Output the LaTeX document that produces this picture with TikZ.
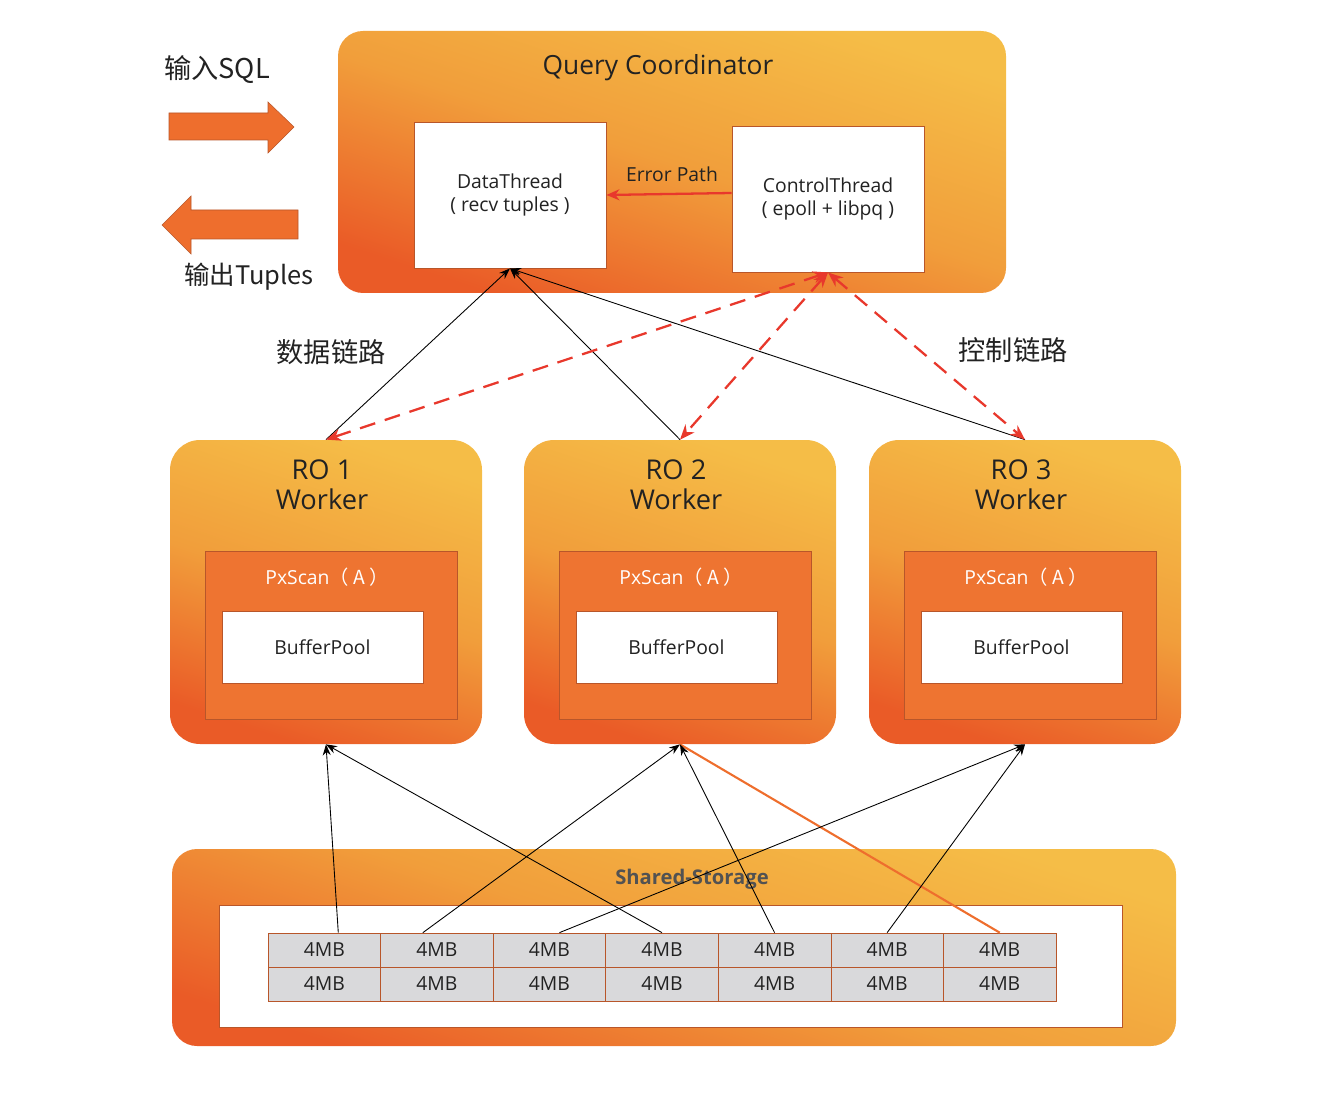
\documentclass[tikz,border=0pt]{standalone}
\usepackage{fontspec}
\setmainfont{Open Sans}
\newfontfamily\cjk{Noto Sans CJK SC}
\usetikzlibrary{arrows.meta}

\definecolor{qred}{HTML}{EA5B27}
\definecolor{qmid}{HTML}{F19E3B}
\definecolor{qyellow}{HTML}{F5BD47}
\definecolor{qscan}{HTML}{EE7431}
\definecolor{qbrown}{HTML}{B8562A}
\definecolor{qgray}{HTML}{D9D9DB}
\definecolor{qerr}{HTML}{E8382C}
\definecolor{qarrow}{HTML}{EE6E2D}
\definecolor{qtext}{HTML}{222222}

\begin{document}
\begin{tikzpicture}

  \useasboundingbox (0,0) rectangle (26.8,-21.92);
  \node[anchor=center,inner sep=0mm] (X) at (0,0) {};

  % node styles
  \tikzstyle{Panel}=[
  shape=rectangle,rounded corners=5mm,
  top color=qyellow,bottom color=qred,middle color=qmid,
  shading angle=-18]

  \tikzstyle{Box}=[
  shape=rectangle,draw=qbrown,fill=white,line width=0.5pt,
  align=center,text=qtext,
  font=\fontsize{11}{13.5}\selectfont]

  \tikzstyle{Title}=[align=center,text=qtext,font=\fontsize{15.5}{17}\selectfont]
  \tikzstyle{Label}=[text=qtext,font=\fontsize{11}{13.5}\selectfont]
  \tikzstyle{Cn}=[text=qtext,font=\cjk\fontsize{15.5}{19}\selectfont]
  \tikzstyle{Cell}=[shape=rectangle,draw=qbrown,fill=qgray,inner sep=0mm,
  minimum width=2.2514cm,minimum height=0.68cm,text=qtext,
  font=\fontsize{11}{13.5}\selectfont]

  % connector styles
  \tikzstyle{Data}=[draw=black,line width=0.5pt,-{Stealth[length=2.2mm,width=1.6mm]}]
  \tikzstyle{Ctrl}=[draw=qerr,line width=1.3pt,dash pattern=on 3.2mm off 2mm,
  {Stealth[length=3mm,width=2.4mm]}-{Stealth[length=3mm,width=2.4mm]}]
  \tikzstyle{Err}=[draw=qerr,line width=1.3pt,-{Stealth[length=2.6mm,width=2.2mm]}]

  % coordinator
  \draw (X) node[Panel,minimum width=13.36cm,minimum height=5.24cm] (QC) at +(13.44,-3.24) {};
  \draw (X) node[Title,font=\fontsize{15}{17}\selectfont] (QCT) at +(13.16,-1.36) {Query Coordinator};
  \draw (X) node[Box,minimum width=3.84cm,minimum height=2.92cm] (DT) at +(10.2,-3.9)
    {DataThread\\( recv tuples )};
  \draw (X) node[Box,minimum width=3.84cm,minimum height=2.92cm] (CT) at +(16.56,-3.98)
    {ControlThread\\( epoll + libpq )};
  \draw (X) node[Label] (EP) at +(13.44,-3.48) {Error Path};
  \draw[Err] ([yshift=1.2mm]CT.west) -- (DT.east);

  % input / output
  \fill[qarrow,draw=qbrown,line width=0.3pt] (3.38,-2.26) -- (5.36,-2.26) -- (5.36,-2.04)
    -- (5.88,-2.54) -- (5.36,-3.06) -- (5.36,-2.8) -- (3.38,-2.8) -- cycle;
  \fill[qarrow,draw=qbrown,line width=0.3pt] (5.96,-4.2) -- (3.82,-4.2) -- (3.82,-3.92)
    -- (3.24,-4.5) -- (3.82,-5.08) -- (3.82,-4.78) -- (5.96,-4.78) -- cycle;
  \draw (X) node[Cn] (IN) at +(4.34,-1.4) {输入SQL};
  \draw (X) node[Cn,font=\cjk\fontsize{14.5}{19}\selectfont] (OUT) at +(4.98,-5.54) {输出Tuples};
  \draw (X) node[Cn] (DL) at +(6.62,-7.04) {数据链路};
  \draw (X) node[Cn] (CL) at +(20.26,-7.0) {控制链路};

  % workers
  \foreach \i/\x in {1/6.52,2/13.6,3/20.5} {
    \draw (X) node[Panel,rounded corners=6mm,minimum width=6.24cm,minimum height=6.08cm] (W\i) at +(\x,-11.84) {};
    \node[Title] (WT\i) at ([xshift=-0.8mm,yshift=-9mm]W\i.north) {RO \i\\Worker};
    \node[shape=rectangle,draw=qbrown,fill=qscan,line width=0.5pt,
      minimum width=5.04cm,minimum height=3.36cm] (S\i) at ([xshift=1mm,yshift=-8.6mm]W\i.center) {};
    \node[text=white,font=\fontsize{11}{13.5}\selectfont] (SL\i) at ([xshift=-0.8mm,yshift=-5.4mm]S\i.north)
      {PxScan{\cjk （ A ）}};
    \node[Box,minimum width=4.02cm,minimum height=1.44cm] (BP\i) at ([xshift=-0.7mm,yshift=-11mm]W\i.center) {BufferPool};
  }

  % shared storage
  \draw (X) node[Panel,minimum width=20.08cm,minimum height=3.94cm] (SS) at +(13.48,-18.95) {};
  \draw (X) node[text=black!68,font=\bfseries\fontsize{11.5}{14}\selectfont] (SST) at +(13.84,-17.58) {Shared-Storage};
  \draw (X) node[Box,minimum width=18.06cm,minimum height=2.44cm] (SI) at +(13.41,-19.32) {};
  \foreach \c in {1,...,7} {
    \foreach \r in {1,2} {
      \draw (X) node[Cell] (c\r\c) at +({5.36+2.2514*(\c-0.5)},{-19.0-0.68*(\r-1)}) {4MB};
    }
  }

  % data links
  \draw[Data] (W1.north) -- (DT.south);
  \draw[Data] (W2.north) -- (DT.south);
  \draw[Data] (W3.north) -- (DT.south);

  % control links
  \draw[Ctrl] (CT.south) -- (W1.north);
  \draw[Ctrl] (CT.south) -- (W2.north);
  \draw[Ctrl] (CT.south) -- (W3.north);

  % storage links
  \draw[draw=qarrow,line width=1.2pt] (c17.north) -- (W2.south);
  \draw[Data] ([xshift=2.8mm]c11.north) -- (W1.south);
  \draw[Data] (c14.north) -- (W1.south);
  \draw[Data] ([xshift=-2.8mm]c12.north) -- (W2.south);
  \draw[Data] (c15.north) -- (W2.south);
  \draw[Data] ([xshift=2mm]c13.north) -- (W3.south);
  \draw[Data] (c16.north) -- (W3.south);

\end{tikzpicture}
\end{document}
